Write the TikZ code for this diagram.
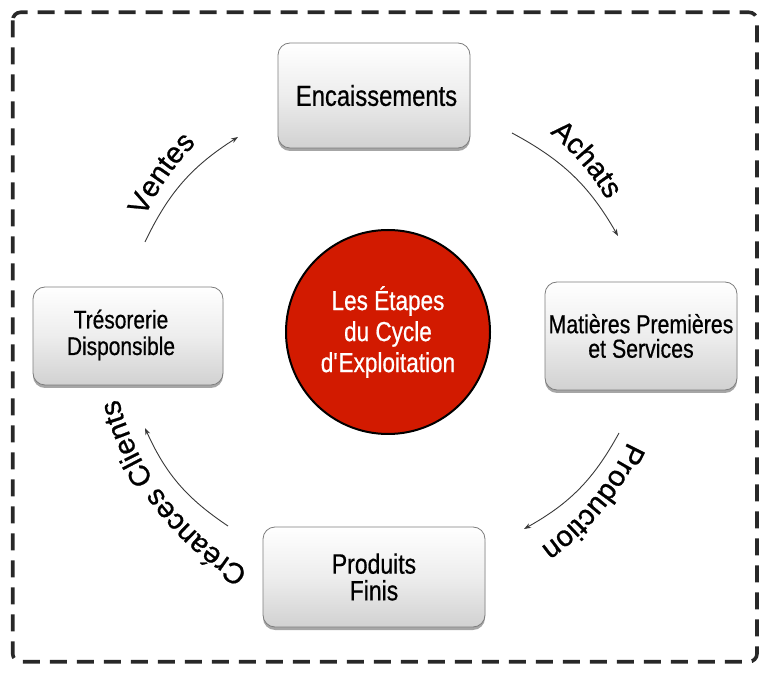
\documentclass[tikz,border=0pt]{standalone}
\usepackage{fontspec}
\setmainfont{Liberation Sans}
\newfontfamily\condfont[FakeStretch=0.82, FakeBold=0.6]{Liberation Sans}
\newfontfamily\arcfont[FakeBold=0.8]{Liberation Sans}
\usetikzlibrary{shadows,decorations.text,arrows.meta}
\definecolor{cyclered}{RGB}{210,26,0}
\definecolor{boxedge}{RGB}{125,125,125}
\definecolor{frameline}{RGB}{40,40,40}
\newcommand\lblfont{\arcfont\fontsize{29}{30}\selectfont}
\begin{document}
\begin{tikzpicture}[x=1pt,y=1pt,
  stage/.style={rounded corners=12pt, draw=boxedge, line width=0.8pt,
    top color=white, bottom color=black!18, middle color=black!7,
    drop shadow={shadow xshift=0pt, shadow yshift=-3pt, opacity=0.35, fill=black},
    align=center, inner sep=0pt, text=black},
  flow/.style={-{Stealth[length=7pt,width=5pt]}, draw=black!78, line width=0.9pt},
  lbl/.style={decorate, decoration={text along path, text align=center, text={|\lblfont|#1}}}
]
\useasboundingbox (0,0) rectangle (768,672);
% dashed frame
\draw[frameline, line width=3.6pt, dash pattern=on 17pt off 10pt, rounded corners=8pt]
  (12.7,659.7) rectangle (757,10.3);

% stage boxes
\node[stage, minimum width=192pt, minimum height=105pt,
  font=\condfont\fontsize{29}{30}\selectfont] (enc) at (374,576.5) {\hspace*{5pt}Encaissements};
\node[stage, minimum width=192pt, minimum height=108pt,
  font=\condfont\fontsize{26}{24.5}\selectfont] (mat) at (641,336) {Matières Premières\\et Services};
\node[stage, minimum width=190pt, minimum height=98pt] (tres) at (128,336) {};
\node[align=center, inner sep=0pt, text=black,
  font=\condfont\fontsize{25.5}{26.5}\selectfont] (trestxt) at (121,337) {Trésorerie\\Disponsible};
\node[stage, minimum width=222pt, minimum height=100pt,
  font=\condfont\fontsize{28}{26.7}\selectfont] (prod) at (374,95) {Produits\\Finis};

% centre circle
\node[circle, fill=cyclered, draw=black, line width=2pt, minimum size=204pt,
  text=white, align=center, inner sep=0pt,
  font=\condfont\fontsize{27.5}{31}\selectfont] (centre) at (388,340)
  {Les Étapes\\du Cycle\\d\textquotesingle Exploitation};

% arrow end points
\coordinate (C) at (386,341);
\coordinate (v1) at (145,430); \coordinate (v2) at (238,535);
\coordinate (a1) at (512,539); \coordinate (a2) at (618,436);
\coordinate (p1) at (619,239); \coordinate (p2) at (524,143);
\coordinate (c1) at (228,146); \coordinate (c2) at (145,244);

\draw[flow] (v1) to[bend left=16] (v2);
\draw[flow] (a1) to[bend left=16] (a2);
\draw[flow] (p1) to[bend left=16] (p2);
\draw[flow] (c1) to[bend left=16] (c2);

% curved labels
\path[lbl=Ventes] (C) ++(180:267pt) arc[start angle=180, end angle=110, radius=267pt];
\path[lbl=Achats] (C) ++(75.5:257pt) arc[start angle=75.5, end angle=5.5, radius=257pt];
\path[lbl=Production] (C) ++(-4.5:266pt) arc[start angle=-4.5, end angle=-74.5, radius=266pt];
\path[lbl=Créances Clients] (C) ++(-102.8:276pt) arc[start angle=-102.8, end angle=-182.8, radius=276pt];
\end{tikzpicture}
\end{document}
